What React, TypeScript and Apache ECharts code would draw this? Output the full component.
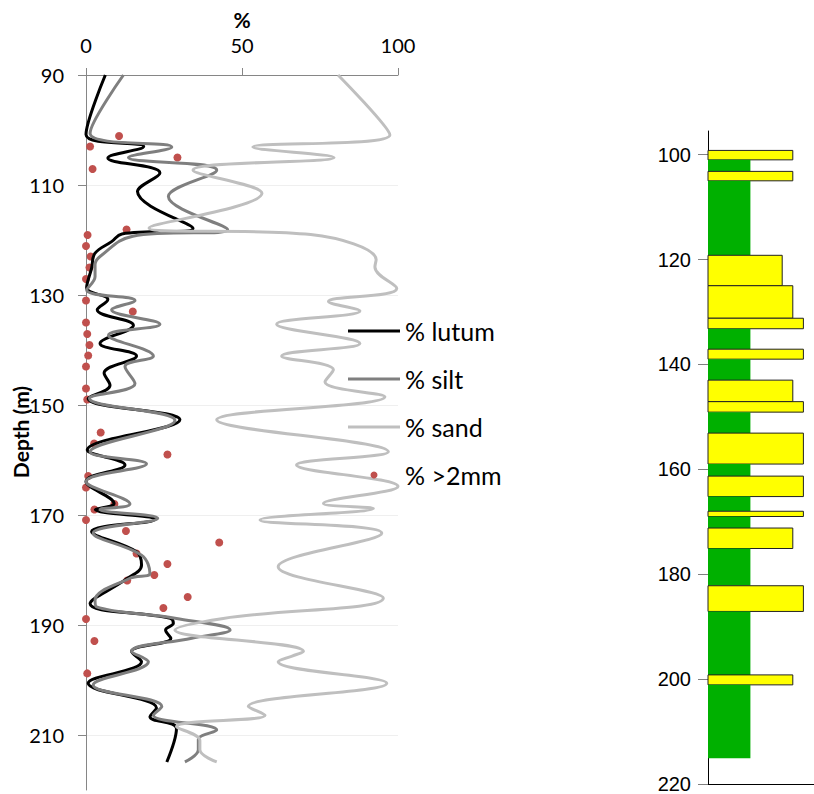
import React, { useEffect, useRef } from 'react';
import * as echarts from 'echarts';

// ---------- axes ----------
const pctTicks = [0, 50, 100];
const depthTicks = [90, 110, 130, 150, 170, 190, 210];
const logTicks = [100, 120, 140, 160, 180, 200, 220];

// ---------- grain size curves (depth m, %) ----------
const lutumDepth = [90, 100.8, 103.0, 105.1, 107.8, 111.2, 117.9, 118.9, 120.3, 122.4, 125.1, 128.7, 130.8, 132.7, 135.5, 138.8, 141.1, 144.2, 146.4, 148.8, 152.7, 158.2, 160.9, 163.9, 167.9, 169.0, 170.8, 173.0, 176.7, 179.1, 181.8, 186.1, 188.8, 189.7, 190.9, 192.4, 194.8, 196.7, 200.6, 205.1, 206.7, 208.8, 214.9];
const lutumPct = [6.2, 0, 18.5, 7.0, 23.7, 16.5, 34.3, 11.5, 8.2, 2.9, 1.8, 0.2, 7.0, 3.6, 15.2, 4.5, 16.2, 5.8, 7.7, 0.7, 30.1, 0.4, 12.5, 0, 9.0, 3.0, 22.0, 1.8, 16.2, 17.8, 12.5, 1.3, 27.0, 28.0, 25.5, 27.2, 14.6, 17.8, 0.7, 22.6, 20.5, 29.0, 25.9];

const siltDepth = [90, 100.6, 103.1, 105.0, 107.3, 112.1, 118.1, 119.3, 123.0, 124.5, 126.7, 129.1, 131.0, 132.7, 135.3, 137.3, 141.1, 143.0, 146.1, 148.8, 152.8, 158.5, 160.7, 163.9, 168.0, 169.0, 170.6, 173.3, 177.3, 180.6, 181.5, 185.5, 186.7, 188.8, 190.9, 192.4, 194.8, 196.7, 200.9, 204.8, 206.4, 209.1, 210.8, 212.7, 214.9];
const siltPct = [12, 1.3, 27.5, 13.6, 41.9, 26.4, 45.4, 15, 4.5, 2.9, 2.9, 0.2, 15.7, 8.2, 23.7, 7.2, 21.6, 12.5, 15.7, 1.1, 28.5, 1.3, 19.4, 0, 14.1, 4.5, 23.0, 2.3, 17.8, 20.5, 14.1, 2.9, 3.4, 29, 46.2, 33.9, 14.6, 20, 2.3, 24.3, 21.6, 41.9, 36, 36, 31.7];

const sandDepth = [90, 100.9, 103.1, 105.0, 107.3, 111.5, 117.8, 119.0, 123.6, 124.9, 128.8, 131.2, 132.9, 135.3, 138.8, 141.1, 143.6, 145.8, 148.5, 152.7, 158.5, 160.9, 164.8, 167.9, 168.8, 170.9, 173.3, 179.4, 185.1, 188.8, 190.9, 194.8, 196.7, 200.6, 204.8, 206.4, 208.5, 211.0, 212.7, 214.9];
const sandPct = [80.8, 97.4, 53.5, 79.5, 34.3, 56.4, 20.2, 72, 93, 92.6, 99.6, 77.7, 87.8, 61.1, 87.8, 62.7, 79.3, 76.6, 95.8, 41.9, 96.9, 67.5, 100, 76.1, 92.1, 55.8, 94.8, 61.6, 95.3, 44, 28.5, 69.7, 61.6, 96.4, 52, 57.4, 29, 36.5, 36.5, 41.9];

const gravelDepth = [101.1, 103, 105, 107.1, 118.1, 119.1, 121.1, 123, 125, 127.1, 131, 133, 135, 137.1, 139.1, 141, 143, 147, 149, 155, 157, 159, 162.9, 165, 168, 169, 170.9, 172.9, 175, 177, 178.9, 180.9, 181.9, 184.9, 186.9, 188.9, 192.9, 198.8];
const gravelPct = [10.6, 1.3, 29.3, 2.1, 13, 0.5, 0, 1.5, 1.1, 0, 0, 15, 0, 0.4, 1.1, 0.7, 0, 0, 0.4, 4.7, 2.6, 26.1, 0.7, 0, 9.1, 2.7, 0, 12.8, 42.7, 16.2, 26.1, 21.9, 13.2, 32.6, 24.8, 0, 2.7, 0.4];

// ---------- lithology log ----------
const layerTop = [99.2, 101.0, 103.2, 105.0, 119.2, 125.0, 131.2, 133.2, 137.1, 139.0, 143.0, 147.1, 149.1, 153.1, 159.0, 161.3, 165.2, 168.0, 169.0, 171.2, 175.1, 182.2, 187.1, 199.2, 201.1];
const layerBottom = [101.0, 103.2, 105.0, 119.2, 125.0, 131.2, 133.2, 137.1, 139.0, 143.0, 147.1, 149.1, 153.1, 159.0, 161.3, 165.2, 168.0, 169.0, 171.2, 175.1, 182.2, 187.1, 199.2, 201.1, 215.1];
const layerClass = [8, 4, 8, 4, 7, 8, 9, 4, 9, 4, 8, 9, 4, 9, 4, 9, 4, 9, 4, 8, 4, 9, 4, 8, 4];
const layerLith = ['sand', 'clay', 'sand', 'clay', 'sand', 'sand', 'sand', 'clay', 'sand', 'clay', 'sand', 'sand', 'clay', 'sand', 'clay', 'sand', 'clay', 'sand', 'clay', 'sand', 'clay', 'sand', 'clay', 'sand', 'clay'];

const pair = (d: number[], v: number[]) => d.map((dep, i) => [v[i], dep]);
const lineIcon = 'path://M0,0H52V3H0Z';

export default function App() {
  const ref = useRef<HTMLDivElement>(null);
  useEffect(() => {
    if (!ref.current) return;
    const chart = echarts.init(ref.current, null, { renderer: 'svg' });
    const labelFont = 'Lato';
    const option: any = {
      animation: false,
      textStyle: { fontFamily: labelFont },
      grid: [
        { left: 86, top: 75, width: 312, height: 715 },
        { left: 708, top: 131, width: 106, height: 656 },
      ],
      legend: {
        orient: 'vertical',
        left: 348,
        top: 316,
        padding: 0,
        itemWidth: 52,
        itemHeight: 7,
        itemGap: 18,
        textStyle: { fontFamily: labelFont, fontSize: 25, color: '#000', lineHeight: 30 },
        data: [
          { name: '% lutum', icon: lineIcon },
          { name: '% silt', icon: lineIcon },
          { name: '% sand', icon: lineIcon },
          { name: '% >2mm', icon: 'circle' },
        ],
      },
      xAxis: [
        {
          gridIndex: 0, type: 'value', position: 'top', min: 0, max: 100,
          name: '%', nameLocation: 'middle', nameGap: 45,
          nameTextStyle: { fontFamily: labelFont, fontWeight: 'bold', fontSize: 21, color: '#000' },
          axisLine: { show: true, onZero: false, lineStyle: { color: '#868686', width: 1 } },
          axisTick: { show: true, length: 7, customValues: pctTicks, lineStyle: { color: '#868686' } },
          axisLabel: { customValues: pctTicks, fontSize: 20, color: '#000', margin: 20, fontFamily: labelFont },
          splitLine: { show: false },
        },
        {
          gridIndex: 1, type: 'value', position: 'bottom', min: 0, max: 10,
          axisLine: { show: true, onZero: false, lineStyle: { color: '#000', width: 1 } },
          axisTick: { show: false }, axisLabel: { show: false }, splitLine: { show: false },
        },
      ],
      yAxis: [
        {
          gridIndex: 0, type: 'value', inverse: true, min: 90, max: 220,
          axisLine: { show: true, onZero: false, lineStyle: { color: '#868686', width: 1 } },
          axisTick: { show: true, length: 8, customValues: depthTicks, lineStyle: { color: '#868686' } },
          axisLabel: { customValues: depthTicks, fontSize: 20, color: '#000', margin: 22, fontFamily: labelFont },
          splitLine: { show: true, lineStyle: { color: '#EFEFEF', width: 1 } },
        },
        {
          gridIndex: 1, type: 'value', inverse: true, min: 95.5, max: 220,
          axisLine: { show: true, onZero: false, lineStyle: { color: '#000', width: 1 } },
          axisTick: { show: true, length: 10, customValues: logTicks, lineStyle: { color: '#808080' } },
          axisLabel: { customValues: logTicks, fontSize: 20, color: '#000', margin: 17, fontFamily: 'Liberation Sans' },
          splitLine: { show: false },
        },
      ],
      graphic: [
        {
          type: 'text', x: 20, y: 432, rotation: Math.PI / 2,
          style: { text: 'Depth (m)', fontFamily: labelFont, fontWeight: 'bold', fontSize: 21, fill: '#000', align: 'center', verticalAlign: 'middle' },
        },
      ],
      series: [
        {
          type: 'line', name: '% lutum', xAxisIndex: 0, yAxisIndex: 0, data: pair(lutumDepth, lutumPct),
          smooth: 0.4, symbol: 'none', lineStyle: { color: '#000000', width: 3 }, itemStyle: { color: '#000000' },
        },
        {
          type: 'line', name: '% silt', xAxisIndex: 0, yAxisIndex: 0, data: pair(siltDepth, siltPct),
          smooth: 0.4, symbol: 'none', lineStyle: { color: '#7F7F7F', width: 3 }, itemStyle: { color: '#7F7F7F' },
        },
        {
          type: 'line', name: '% sand', xAxisIndex: 0, yAxisIndex: 0, data: pair(sandDepth, sandPct),
          smooth: 0.4, symbol: 'none', lineStyle: { color: '#BFBFBF', width: 3 }, itemStyle: { color: '#BFBFBF' },
        },
        {
          type: 'scatter', name: '% >2mm', xAxisIndex: 0, yAxisIndex: 0, data: pair(gravelDepth, gravelPct),
          symbol: 'circle', symbolSize: 8, itemStyle: { color: '#C0504D', opacity: 1 },
        },
        {
          type: 'custom', name: 'lithology', xAxisIndex: 1, yAxisIndex: 1,
          data: layerTop.map((t, i) => [t, layerBottom[i], layerClass[i]]),
          encode: { x: [2], y: [0, 1] },
          renderItem: (params: any, api: any) => {
            const top = api.value(0);
            const bottom = api.value(1);
            const w = api.value(2);
            const p0 = api.coord([0, top]);
            const p1 = api.coord([w, bottom]);
            const isSand = layerLith[params.dataIndex] === 'sand';
            return {
              type: 'rect',
              shape: { x: p0[0], y: p0[1], width: p1[0] - p0[0], height: p1[1] - p0[1] },
              style: isSand
                ? { fill: '#FFFF00', stroke: '#222222', lineWidth: 1 }
                : { fill: '#00B000', stroke: null },
            };
          },
        },
      ],
    };
    chart.setOption(option);
    return () => chart.dispose();
  }, []);
  return <div ref={ref} style={{ position: 'absolute', left: 0, top: 0, width: 814, height: 794 }} />;
}
